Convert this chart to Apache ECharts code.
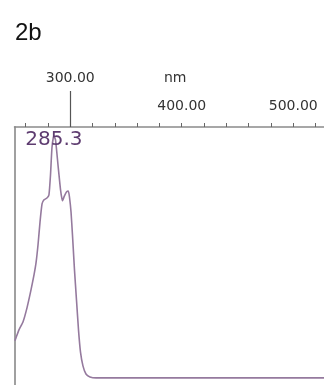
<!DOCTYPE html>
<html>
<head>
<meta charset="utf-8">
<script src="https://cdn.jsdelivr.net/npm/echarts@6/dist/echarts.min.js"></script>
<style>
  html, body { margin: 0; padding: 0; background: #fff; }
  #chart { width: 324px; height: 385px; }
</style>
</head>
<body>
<div id="chart"></div>
<script>
// UV absorption spectrum, sample 2b
const wavelengths = [
  250.4, 251.3, 254.0, 257.6, 261.2, 264.8, 267.5, 269.3, 271.1, 272.9,
  274.7, 276.5, 279.1, 280.9, 282.3, 283.6, 285.3, 286.8, 289.0, 291.3,
  293.0, 294.8, 296.6, 298.3, 299.3, 300.7, 302.0, 303.8, 305.6, 307.4,
  309.2, 311.4, 314.1, 317.7, 323.1, 340, 380, 420, 460, 500, 528
];
const absorbance = [
  0.155, 0.167, 0.201, 0.234, 0.293, 0.368, 0.431, 0.481, 0.557, 0.653,
  0.728, 0.745, 0.753, 0.766, 0.850, 0.963, 1.013, 0.996, 0.892, 0.787,
  0.741, 0.762, 0.778, 0.782, 0.757, 0.694, 0.598, 0.452, 0.326, 0.201,
  0.108, 0.050, 0.016, 0.004, 0.0, 0.0, 0.0, 0.0, 0.0, 0.0, 0.0
];
const peakWavelength = 285.3;
const minorTicks = [260, 280, 300, 320, 340, 360, 380, 400, 420, 440, 460, 480, 500, 520];
const lowerLabels = [400, 500];
const cursorWavelength = 300;
const axisUnit = 'nm';
const panelTitle = '2b';

const peakIndex = wavelengths.indexOf(peakWavelength);
const seriesData = wavelengths.map((w, i) => [w, absorbance[i]]);

const chart = echarts.init(document.getElementById('chart'));
const labelFont = 'DejaVu Sans';

chart.setOption({
  animation: false,
  backgroundColor: '#fff',
  title: {
    text: panelTitle,
    left: 10,
    top: 16,
    textStyle: { fontFamily: 'Liberation Sans', fontSize: 24, fontWeight: 'normal', color: '#111' }
  },
  grid: { left: 14.5, right: 0, top: 127, bottom: 0 },
  xAxis: [
    {
      type: 'value',
      position: 'top',
      min: 250,
      max: 527.6,
      axisLine: { show: true, onZero: false, lineStyle: { color: '#8a8a8a', width: 1.5 } },
      axisTick: { show: true, customValues: minorTicks, length: 4, lineStyle: { color: '#666' } },
      axisLabel: {
        show: true,
        customValues: lowerLabels,
        margin: 14,
        formatter: v => v.toFixed(2),
        fontFamily: labelFont,
        fontSize: 14,
        color: '#333'
      },
      splitLine: { show: false }
    },
    {
      type: 'value',
      position: 'top',
      offset: 0,
      min: 250,
      max: 527.6,
      name: axisUnit,
      nameLocation: 'middle',
      nameGap: 42,
      nameMoveOverlap: false,
      nameTextStyle: { fontFamily: labelFont, fontSize: 14, color: '#333', padding: [0, 0, 0, 12] },
      axisLine: { show: false, onZero: false },
      axisTick: { show: true, customValues: [cursorWavelength], length: 36, lineStyle: { color: '#555', width: 1.2 } },
      axisLabel: {
        show: true,
        customValues: [cursorWavelength],
        margin: 42,
        formatter: v => v.toFixed(2),
        fontFamily: labelFont,
        fontSize: 14,
        color: '#333'
      },
      splitLine: { show: false }
    }
  ],
  yAxis: {
    type: 'value',
    min: -0.03,
    max: 1.05,
    axisLine: { show: true, onZero: false, lineStyle: { color: '#a0a0a0', width: 2 } },
    axisTick: { show: false },
    axisLabel: { show: false },
    splitLine: { show: false }
  },
  series: [
    {
      type: 'line',
      xAxisIndex: 0,
      data: seriesData,
      showSymbol: false,
      smooth: 0.15,
      lineStyle: { color: '#957a9e', width: 1.6 },
      markPoint: {
        symbol: 'circle',
        symbolSize: 0,
        data: [{ coord: [wavelengths[peakIndex], absorbance[peakIndex]] }],
        label: {
          show: true,
          position: 'inside',
          offset: [0, 4],
          formatter: () => wavelengths[peakIndex].toFixed(1),
          fontFamily: labelFont,
          fontSize: 20,
          color: '#5e3c70'
        }
      }
    }
  ]
});
</script>
</body>
</html>
